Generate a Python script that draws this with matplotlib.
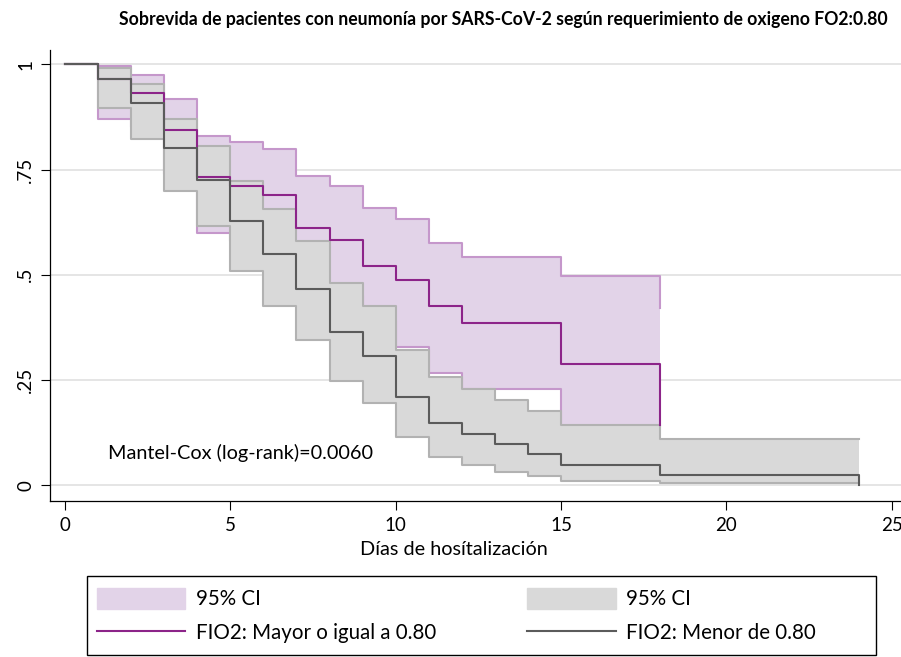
import matplotlib
matplotlib.use("Agg")
import matplotlib.pyplot as plt
from matplotlib.patches import Patch, Rectangle
from matplotlib.lines import Line2D

plt.rcParams['font.family'] = ['Lato', 'DejaVu Sans']

# Kaplan-Meier: FIO2 >= 0.80
t_mayor = [0, 1, 2, 3, 4, 5, 6, 7, 8, 9, 10, 11, 12, 15, 18]
s_mayor = [1, .966, .933, .845, .732, .712, .690, .611, .583, .521, .488, .425, .385, .288, .143]
hi_mayor = [1, .995, .974, .917, .829, .815, .798, .734, .710, .659, .633, .575, .542, .496, .420]
lo_mayor = [1, .871, .850, .740, .599, .580, .560, .480, .450, .390, .329, .266, .229, .060, .030]

# Kaplan-Meier: FIO2 < 0.80
t_menor = [0, 1, 2, 3, 4, 5, 6, 7, 8, 9, 10, 11, 12, 13, 14, 15, 18, 24]
s_menor = [1, .966, .909, .800, .726, .627, .550, .467, .364, .307, .210, .147, .121, .097, .073, .049, .024, 0]
hi_menor = [1, .991, .954, .871, .806, .722, .655, .579, .480, .425, .321, .258, .228, .202, .175, .143, .109, .109]
lo_menor = [1, .897, .823, .698, .615, .510, .426, .345, .248, .196, .115, .067, .049, .032, .021, .010, .004, .004]

lbl_mayor = "FIO2: Mayor o igual a 0.80"
lbl_menor = "FIO2: Menor de 0.80"
logrank_txt = "Mantel-Cox (log-rank)=0.0060"

c_line_a = "#8C2489"
c_edge_a = "#C597CB"
c_fill_a = "#E2D3E8"
c_line_b = "#5B5B5B"
c_edge_b = "#B2B2B2"
c_fill_b = "#D9D9D9"

fig = plt.figure(figsize=(9.01, 6.57), dpi=100)
ax = fig.add_axes([50 / 901, 1 - 500.7 / 657, 851 / 901, (500.7 - 50) / 657])

# confidence bands
ax.fill_between(t_mayor, lo_mayor, hi_mayor, step="post", color=c_fill_a, lw=0, zorder=1)
ax.step(t_mayor, hi_mayor, where="post", color=c_edge_a, lw=1.5, zorder=1.1)
ax.step(t_mayor, lo_mayor, where="post", color=c_edge_a, lw=1.5, zorder=1.1)
ax.fill_between(t_menor, lo_menor, hi_menor, step="post", color=c_fill_b, lw=0, zorder=2)
ax.step(t_menor, hi_menor, where="post", color=c_edge_b, lw=1.5, zorder=2.1)
ax.step(t_menor, lo_menor, where="post", color=c_edge_b, lw=1.5, zorder=2.1)

# survival curves
ax.step(t_mayor, s_mayor, where="post", color=c_line_a, lw=1.5, zorder=3)
ax.step(t_menor, s_menor, where="post", color=c_line_b, lw=1.5, zorder=3.1)

ax.set_xlim(-0.454, 25.28)
ax.set_ylim(-0.037, 1.034)
ax.set_xticks([0, 5, 10, 15, 20, 25])
ax.set_yticks([0, .25, .5, .75, 1])
ax.set_yticklabels(["0", ".25", ".5", ".75", "1"], rotation=90, va="center")
ax.tick_params(direction="out", length=6.5, width=0.8, labelsize=13.5, pad=5)
ax.grid(axis="y", color="#E3E3E3", lw=1.3, zorder=0)
ax.set_axisbelow(True)
for s in ["top", "right"]:
    ax.spines[s].set_visible(False)
for s in ["left", "bottom"]:
    ax.spines[s].set_linewidth(0.9)

ax.set_xlabel("Días de hosítalización", fontsize=14.3, labelpad=2)
ax.xaxis.set_label_coords(404 / 851, -40 / 450.7)
ax.text(1.3, 0.076, logrank_txt, fontsize=14.3, va="center", ha="left")

fig.text(503 / 901, 1 - 19 / 657, "Sobrevida de pacientes con neumonía por SARS-CoV-2 según requerimiento de oxigeno FO2:0.80",
         ha="center", va="center", fontsize=12.7, fontweight="bold")

# legend with its own frame
handles = [Patch(color=c_fill_a), Line2D([], [], color=c_line_a, lw=1.5),
           Patch(color=c_fill_b), Line2D([], [], color=c_line_b, lw=1.5)]
labels = ["95% CI", lbl_mayor, "95% CI", lbl_menor]
fig.legend(handles, labels, ncol=2, loc="upper left", bbox_to_anchor=(97 / 901, 1 - 588 / 657),
           frameon=False, borderpad=0, fontsize=14.8, handlelength=4.3, handleheight=1.17,
           handletextpad=0.5, labelspacing=0.62, columnspacing=4.45, borderaxespad=0)
fig.patches.append(Rectangle((87 / 901, 1 - 655 / 657), (876 - 87) / 901, 79 / 657,
                             transform=fig.transFigure, fill=False, ec="black", lw=1.0))

fig.savefig("out.png", dpi=100)
